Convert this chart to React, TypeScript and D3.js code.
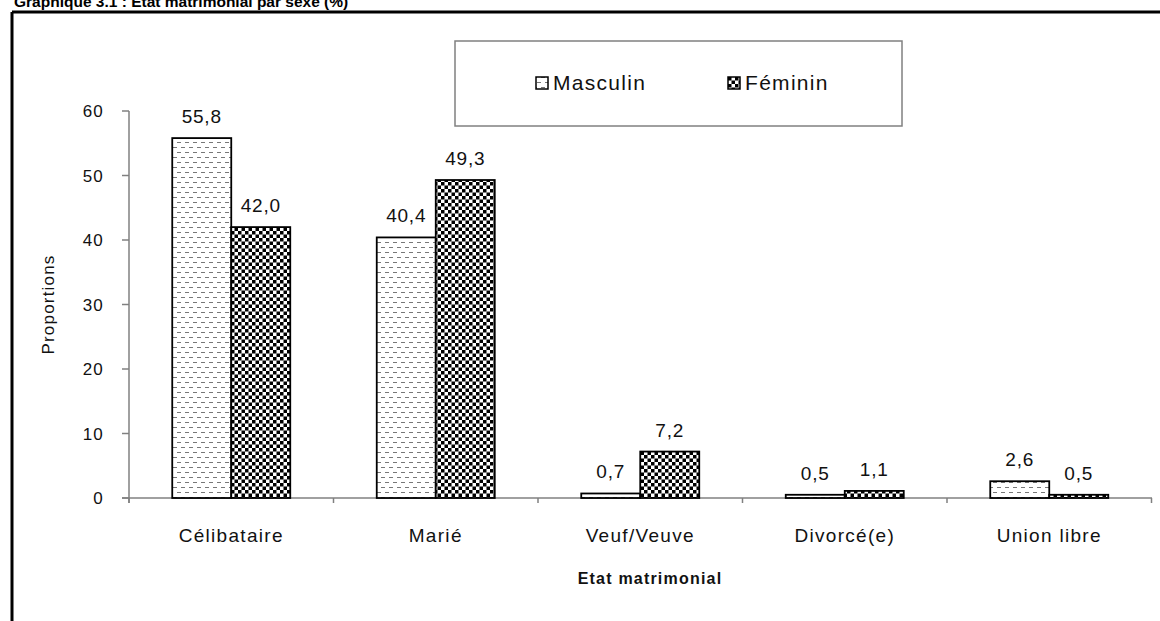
import React from "react";
import * as d3 from "d3";

const categories = ["Célibataire", "Marié", "Veuf/Veuve", "Divorcé(e)", "Union libre"];
const seriesNames = ["Masculin", "Féminin"];
const masculin = [55.8, 40.4, 0.7, 0.5, 2.6];
const feminin = [42.0, 49.3, 7.2, 1.1, 0.5];
const yTicks = [0, 10, 20, 30, 40, 50, 60];
const title = "Graphique 3.1 : Etat matrimonial par sexe (%)";
const xTitle = "Etat matrimonial";
const yTitle = "Proportions";

const FONT = "'Liberation Sans', Arial, sans-serif";

export default function App() {
  const W = 1160, H = 621;
  const x = d3.scaleBand<string>().domain(categories).range([129, 1151.5]).padding(0);
  const sub = d3.scaleBand<string>().domain(seriesNames).range([0, x.bandwidth()]).paddingInner(0).paddingOuter(0.733);
  const y = d3.scaleLinear().domain([0, 60]).range([498, 111]);
  const series = [masculin, feminin];
  const fills = ["url(#patM)", "url(#patF)"];
  const fmt = (v: number) => d3.format(".1f")(v).replace(".", ",");
  const boundaries = [...categories.map((c) => x(c)!), x.range()[1]];

  return (
    <svg width={W} height={H} style={{ position: "absolute", left: 0, top: 0, background: "#fff" }}>
      <defs>
        <pattern id="patM" width={8} height={10} patternUnits="userSpaceOnUse">
          <rect width={8} height={10} fill="#fff" />
          <rect x={1} y={2} width={4} height={1} fill="#777" />
          <rect x={5} y={7} width={3} height={1} fill="#777" />
          <rect x={0} y={7} width={1} height={1} fill="#777" />
        </pattern>
        <pattern id="patF" width={7} height={7} patternUnits="userSpaceOnUse">
          <rect width={7} height={7} fill="#fff" />
          <rect x={0} y={0} width={3.5} height={3.5} fill="#000" />
          <rect x={3.5} y={3.5} width={3.5} height={3.5} fill="#000" />
        </pattern>
      </defs>
      <rect width={W} height={H} fill="#fff" />
      {/* title (cropped at top in the source) */}
      <text x={14} y={7} fontFamily={FONT} fontSize={15.5} fontWeight="bold" fill="#000">{title}</text>
      {/* outer frame */}
      <line x1={12} y1={12} x2={1165} y2={12} stroke="#000" strokeWidth={3} />
      <line x1={12} y1={12} x2={12} y2={630} stroke="#000" strokeWidth={3} />

      {/* legend */}
      <rect x={455} y={41} width={447} height={85} fill="#fff" stroke="#808080" strokeWidth={1.5} />
      {seriesNames.map((s, i) => {
        const lx = i === 0 ? 536 : 728;
        return (
          <g key={s}>
            <rect x={lx} y={77} width={12} height={12} fill={fills[i]} stroke="#000" strokeWidth={1.5} />
            <text x={lx + 17} y={90} fontFamily={FONT} fontSize={21} letterSpacing={1.3} fill="#111">{s}</text>
          </g>
        );
      })}

      {/* y axis */}
      <line x1={129} y1={y(60)} x2={129} y2={503} stroke="#808080" strokeWidth={1.5} />
      {yTicks.map((t) => (
        <g key={t}>
          <line x1={122} x2={129} y1={y(t)} y2={y(t)} stroke="#808080" strokeWidth={1.5} />
          <text x={104} y={y(t) + 6} textAnchor="end" fontFamily={FONT} fontSize={17} letterSpacing={1.2} fill="#111">{t}</text>
        </g>
      ))}
      {/* x axis */}
      <line x1={122} x2={1152} y1={y(0)} y2={y(0)} stroke="#808080" strokeWidth={1.5} />
      {boundaries.map((b, i) => (
        <line key={i} x1={b} x2={b} y1={y(0)} y2={y(0) + 5} stroke="#808080" strokeWidth={1.5} />
      ))}

      {/* bars */}
      {categories.map((c, ci) => (
        <g key={c}>
          {series.map((vals, si) => {
            const bx = x(c)! + sub(seriesNames[si])!;
            const bw = sub.bandwidth();
            const top = y(vals[ci]);
            return (
              <g key={si}>
                <rect x={bx} y={top} width={bw} height={y(0) - top} fill={fills[si]} stroke="#000" strokeWidth={1.8} />
                <text x={bx + bw / 2} y={top - 15} textAnchor="middle" fontFamily={FONT} fontSize={19} letterSpacing={0.8} fill="#111">{fmt(vals[ci])}</text>
              </g>
            );
          })}
          <text x={x(c)! + x.bandwidth() / 2} y={542} textAnchor="middle" fontFamily={FONT} fontSize={19} letterSpacing={1.3} fill="#111">{c}</text>
        </g>
      ))}

      {/* axis titles */}
      <text x={650} y={584} textAnchor="middle" fontFamily={FONT} fontSize={16} fontWeight="bold" letterSpacing={1.2} fill="#111">{xTitle}</text>
      <text transform={`translate(54,${(y(0) + y(60)) / 2}) rotate(-90)`} textAnchor="middle" fontFamily={FONT} fontSize={17} letterSpacing={1.2} fill="#111">{yTitle}</text>
    </svg>
  );
}
